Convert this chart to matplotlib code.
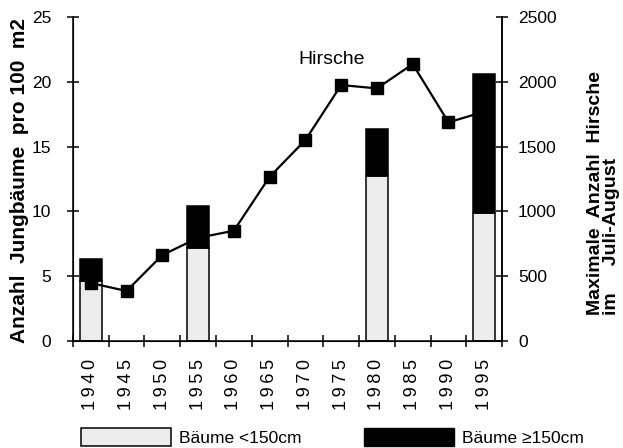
import matplotlib
matplotlib.use("Agg")
import matplotlib.pyplot as plt
from matplotlib.patches import Patch
import numpy as np

plt.rcParams['font.family'] = ['Liberation Sans', 'DejaVu Sans']

# Daten
jahre = [1940, 1945, 1950, 1955, 1960, 1965, 1970, 1975, 1980, 1985, 1990, 1995]
hirsche = [446, 384, 662, 795, 850, 1267, 1551, 1976, 1950, 2138, 1688, 1770]
balken_jahre = [1940, 1955, 1980, 1995]
baeume_klein = [4.6, 7.2, 12.7, 9.9]     # Bäume <150cm
baeume_gross = [1.7, 3.2, 3.7, 10.7]     # Bäume >=150cm

x = np.arange(len(jahre))
xb = np.array([jahre.index(j) for j in balken_jahre])

fig = plt.figure(figsize=(6.23, 4.48), dpi=100)
ax = fig.add_axes([0.117, 0.2395, 0.689, 0.722])

hell = '#ececec'
ax.bar(xb, baeume_klein, width=0.62, color=hell, edgecolor='black', linewidth=1.1)
ax.bar(xb, baeume_gross, width=0.62, bottom=baeume_klein, color='black',
       edgecolor='black', linewidth=1.1)

ax.set_xlim(-0.5, len(jahre) - 0.5)
ax.set_ylim(0, 25)
ax.set_yticks([0, 5, 10, 15, 20, 25])
ax.set_xticks(np.arange(-0.5, len(jahre), 1.0))
ax.set_xticklabels([])
ax.set_xticks(x, minor=True)
# gesperrte Jahreszahlen wie im Original
ax.set_xticklabels(['\u2009'.join(str(j)) for j in jahre], minor=True, rotation=90)
ax.tick_params(axis='x', which='major', direction='inout', length=9, width=1.1)
ax.tick_params(axis='x', which='minor', length=0, pad=13, labelsize=13)
ax.tick_params(axis='y', direction='inout', length=9, width=1.1, labelsize=12.5, pad=11)
ax.spines['top'].set_visible(False)
for s in ['left', 'bottom', 'right']:
    ax.spines[s].set_linewidth(1.1)

# Hirsche auf der rechten Achse
ax2 = ax.twinx()
ax2.plot(x, hirsche, color='black', linewidth=1.6, marker='s', markersize=8.5)
ax2.set_ylim(0, 2500)
ax2.set_yticks([0, 500, 1000, 1500, 2000, 2500])
ax2.tick_params(axis='y', direction='inout', length=9, width=1.1, labelsize=12.5, pad=7)
ax2.spines['top'].set_visible(False)
ax2.spines['right'].set_linewidth(1.1)
ax2.text(6.72, 2170, 'Hirsche', fontsize=14, ha='center', va='center')

# Achsentitel
fig.text(0.031, 0.597, 'Anzahl  Jungbäume  pro 100  m2', rotation=90,
         fontsize=15, fontweight='bold', ha='center', va='center')
fig.text(0.969, 0.297, 'Maximale  Anzahl  Hirsche\nim     Juli-August', rotation=90,
         fontsize=14, fontweight='bold', ha='center', va='bottom',
         multialignment='left', linespacing=0.9)

# Legende
handles = [Patch(facecolor=hell, edgecolor='black', linewidth=1.1),
           Patch(facecolor='black', edgecolor='black')]
fig.legend(handles, ['Bäume <150cm', 'Bäume ≥150cm'], ncol=2, loc='center',
           bbox_to_anchor=(0.533, 0.025), frameon=False, fontsize=12.5,
           handlelength=5.2, handleheight=1.2, handletextpad=0.45,
           columnspacing=3.6, borderpad=0)

fig.savefig('out.png', dpi=100)
